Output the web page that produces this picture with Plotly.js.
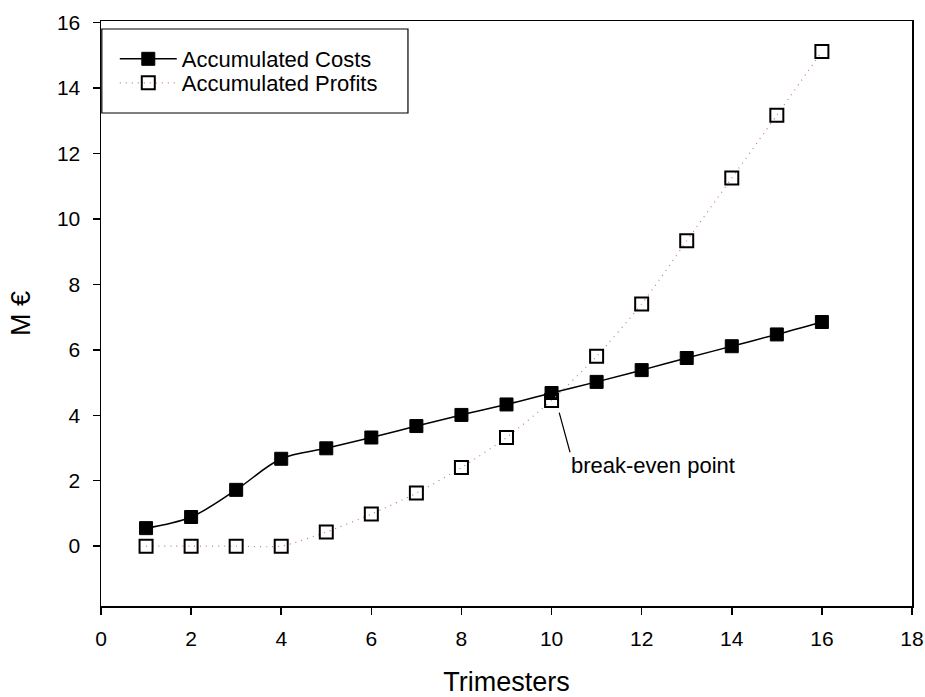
<!DOCTYPE html>
<html>
<head>
<meta charset="utf-8">
<script src="https://cdn.plot.ly/plotly-3.0.1.min.js"></script>
<style>html,body{margin:0;padding:0;background:#fff}#chart{width:925px;height:697px}</style>
</head>
<body>
<div id="chart"></div>
<script>
const trimesters = [1,2,3,4,5,6,7,8,9,10,11,12,13,14,15,16];
const costs = [0.55,0.89,1.72,2.67,2.99,3.32,3.67,4.01,4.33,4.68,5.02,5.38,5.75,6.11,6.47,6.85];
const profits = [0,0,0,0,0.43,0.98,1.62,2.40,3.32,4.45,5.80,7.40,9.33,11.25,13.17,15.12];
const xTicks = [0,2,4,6,8,10,12,14,16,18];
const yTicks = [0,2,4,6,8,10,12,14,16];
const seriesNames = ['Accumulated Costs','Accumulated Profits'];
const noteText = 'break-even point';

const FONT = 'Liberation Sans, Arial, sans-serif';

const data = [
  {
    x: trimesters, y: costs, name: seriesNames[0], type: 'scatter', mode: 'lines+markers',
    legend: 'legend',
    line: {color: '#000', width: 1.5, shape: 'spline', smoothing: 1},
    marker: {symbol: 'square', size: 13, color: '#000', line: {color: '#000', width: 1}}
  },
  {
    x: trimesters, y: profits, name: seriesNames[1], type: 'scatter', mode: 'lines+markers',
    legend: 'legend2',
    line: {color: 'rgb(195,115,175)', width: 1.2, dash: '1px,5px', shape: 'spline', smoothing: 0.6},
    marker: {symbol: 'square-open', size: 13, color: '#000', line: {color: '#000', width: 2}}
  }
];

const legendCommon = {
  xanchor: 'left', yanchor: 'middle',
  bgcolor: 'rgba(0,0,0,0)', borderwidth: 0,
  font: {family: FONT, size: 22, color: '#000'},
  itemwidth: 57
};

const layout = {
  width: 925, height: 697,
  margin: {l: 101, r: 13, t: 21, b: 91},
  paper_bgcolor: '#fff', plot_bgcolor: '#fff',
  font: {family: FONT, color: '#000', size: 21},
  showlegend: true,
  legend: Object.assign({x: 0.017, y: 0.935}, legendCommon),
  legend2: Object.assign({x: 0.017, y: 0.894}, legendCommon),
  shapes: [
    {type: 'rect', xref: 'paper', yref: 'paper', x0: 0.001, x1: 0.3785, y0: 0.8427, y1: 0.9863,
     line: {color: '#000', width: 1.2}, fillcolor: 'rgba(0,0,0,0)', layer: 'above'}
  ],
  xaxis: {
    range: [0, 18], tickvals: xTicks, ticktext: xTicks.map(String),
    showgrid: false, zeroline: false, showline: true, linecolor: '#000', linewidth: 1.5,
    mirror: true, ticks: 'outside', ticklen: 7, tickwidth: 1.5, tickcolor: '#000',
    ticklabelstandoff: 6,
    tickfont: {family: FONT, size: 21, color: '#000'},
    title: {text: 'Trimesters', font: {family: FONT, size: 27, color: '#000'}, standoff: 29}
  },
  yaxis: {
    range: [-1.83, 16.05], tickvals: yTicks, ticktext: yTicks.map(String),
    showgrid: false, zeroline: false, showline: true, linecolor: '#000', linewidth: 1.5,
    mirror: true, ticks: 'outside', ticklen: 7, tickwidth: 1.5, tickcolor: '#000',
    ticklabelstandoff: 8,
    tickfont: {family: FONT, size: 21, color: '#000'},
    title: {text: 'M €', font: {family: FONT, size: 27, color: '#000'}, standoff: 18}
  },
  annotations: [
    {
      x: 10.17, y: 4.08, xref: 'x', yref: 'y',
      ax: 10.41, ay: 2.87, axref: 'x', ayref: 'y',
      text: noteText, showarrow: true, arrowhead: 0, arrowwidth: 1.2, arrowcolor: '#000',
      xanchor: 'left', yanchor: 'top', borderpad: 0,
      font: {family: FONT, size: 22, color: '#000'}
    }
  ]
};

Plotly.newPlot('chart', data, layout, {displayModeBar: false, staticPlot: true});
</script>
</body>
</html>
